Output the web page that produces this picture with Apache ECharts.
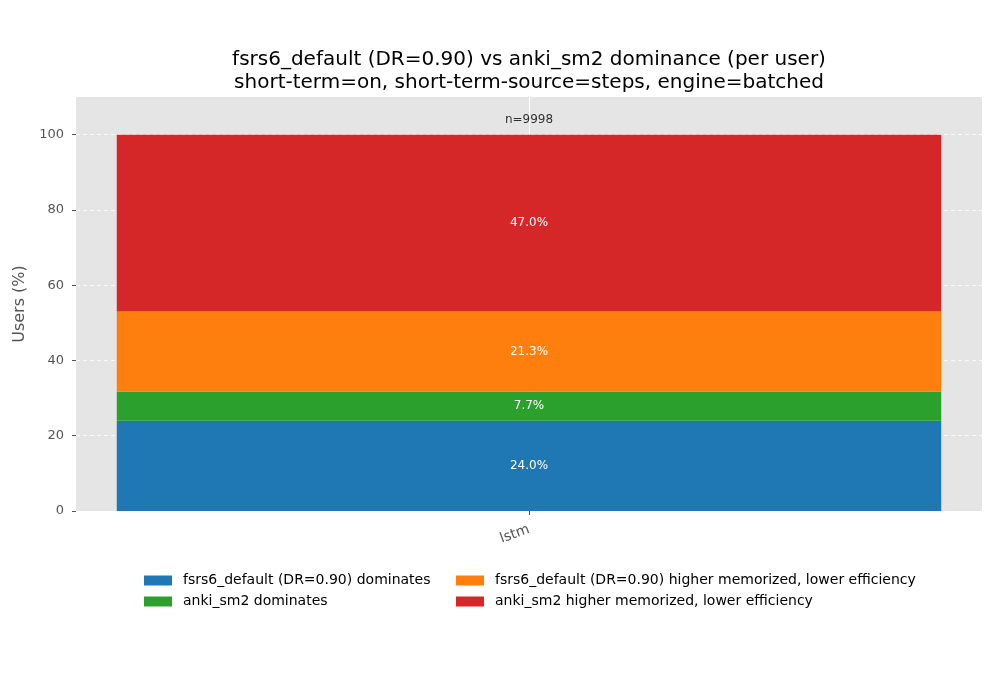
<!DOCTYPE html>
<html>
<head>
<meta charset="utf-8">
<script src="https://cdn.jsdelivr.net/npm/echarts@6/dist/echarts.min.js"></script>
<style>html,body{margin:0;padding:0;background:#fff}#c{width:1000px;height:700px}</style>
</head>
<body>
<div id="c"></div>
<script>
const categories = ['lstm'];
const seriesNames = [
  'fsrs6_default (DR=0.90) dominates',
  'anki_sm2 dominates',
  'fsrs6_default (DR=0.90) higher memorized, lower efficiency',
  'anki_sm2 higher memorized, lower efficiency'
];
const seriesColors = ['#1f77b4', '#2ca02c', '#ff7f0e', '#d62728'];
const dominatesFsrs = [24.0];
const dominatesSm2 = [7.7];
const higherMemFsrs = [21.3];
const higherMemSm2 = [47.0];
const userCounts = [9998];
const yTicks = [0, 20, 40, 60, 80, 100];

const seriesValues = [dominatesFsrs, dominatesSm2, higherMemFsrs, higherMemSm2];
const totals = categories.map((c, i) => seriesValues.reduce((s, arr) => s + arr[i], 0));
const font = 'DejaVu Sans';

const chart = echarts.init(document.getElementById('c'));
const barSeries = seriesNames.map((name, k) => ({
  name: name,
  type: 'bar',
  stack: 'total',
  barWidth: '91%',
  z: 3,
  itemStyle: { color: seriesColors[k] },
  label: {
    show: true, position: 'inside', color: '#fff', fontFamily: font, fontSize: 12,
    formatter: p => p.value.toFixed(1) + '%'
  },
  data: seriesValues[k]
}));

const legendCommon = {
  orient: 'vertical', padding: 0, top: 572,
  itemWidth: 28, itemHeight: 10, itemGap: 4, icon: 'rect',
  textStyle: { fontFamily: font, fontSize: 14, color: '#000', padding: [0, 0, 0, 6], lineHeight: 17 }
};

chart.setOption({
  animation: false,
  backgroundColor: '#fff',
  title: {
    text: 'fsrs6_default (DR=0.90) vs anki_sm2 dominance (per user)\nshort-term=on, short-term-source=steps, engine=batched',
    left: 529, top: 48, textAlign: 'center', padding: 0,
    textStyle: { fontFamily: font, fontSize: 20, fontWeight: 'normal', color: '#000', lineHeight: 23 }
  },
  grid: { left: 76, right: 18, top: 97, bottom: 189, show: true, backgroundColor: '#e5e5e5', borderWidth: 0 },
  legend: [
    Object.assign({ data: [seriesNames[0], seriesNames[1]], left: 144 }, legendCommon),
    Object.assign({ data: [seriesNames[2], seriesNames[3]], left: 456 }, legendCommon)
  ],
  xAxis: {
    type: 'category', data: categories,
    axisLine: { show: false },
    axisTick: { show: true, alignWithLabel: true, length: 4, lineStyle: { color: '#555' } },
    axisLabel: { rotate: 20, color: '#555', fontFamily: font, fontSize: 14, margin: 18 },
    splitLine: { show: false }
  },
  yAxis: {
    type: 'value', min: 0, max: 110, interval: 20,
    name: 'Users (%)', nameLocation: 'middle', nameGap: 43,
    nameTextStyle: { fontFamily: font, fontSize: 16, color: '#555' },
    axisLine: { show: false },
    axisTick: { show: true, length: 4, lineStyle: { color: '#555' }, customValues: yTicks },
    axisLabel: { color: '#555', fontFamily: font, fontSize: 13, margin: 12, customValues: yTicks },
    splitLine: { show: true, lineStyle: { color: '#fff', type: [4, 3], width: 0.8 } }
  },
  series: barSeries.concat([{
    name: 'n',
    type: 'scatter',
    symbolSize: 0,
    z: 1,
    silent: true,
    data: categories.map((c, i) => [c, totals[i]]),
    label: {
      show: true, position: 'top', distance: 9, color: '#000', fontFamily: font, fontSize: 12,
      formatter: p => 'n=' + userCounts[p.dataIndex]
    },
    markLine: {
      silent: true, symbol: 'none', z: 1, label: { show: false },
      lineStyle: { color: '#fff', type: 'solid', width: 1 },
      data: categories.map(c => ({ xAxis: c }))
    }
  }])
});
</script>
</body>
</html>
